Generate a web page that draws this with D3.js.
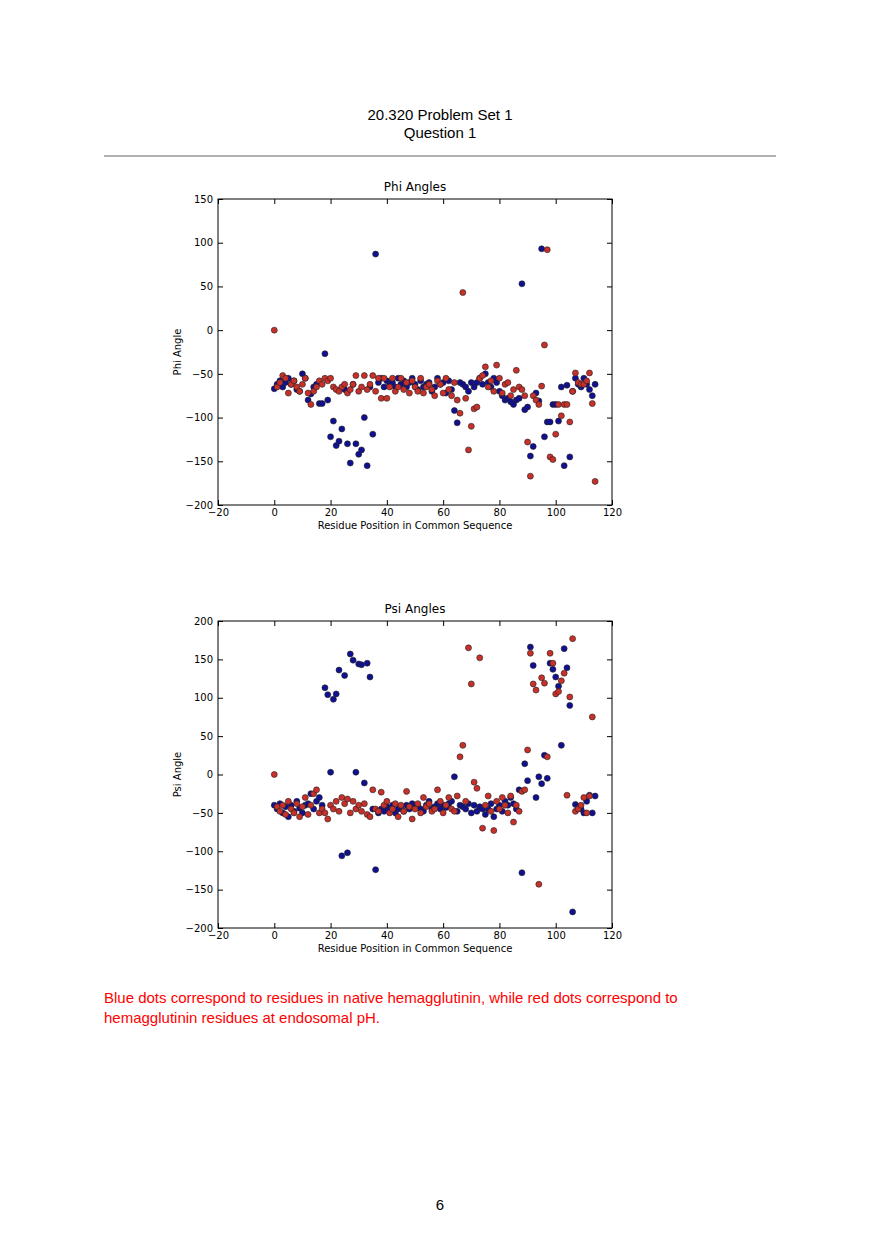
<!DOCTYPE html>
<html><head><meta charset="utf-8">
<script src="https://cdn.jsdelivr.net/npm/d3@7"></script>
<style>body{margin:0;background:#fff}</style></head>
<body><svg id="c" width="880" height="1245"></svg>
<script>
const xTicks=[-20,0,20,40,60,80,100,120];
const phiTicks=[150,100,50,0,-50,-100,-150,-200];
const psiTicks=[200,150,100,50,0,-50,-100,-150,-200];
const phiBlue=[-67,-62,-58,-65,-60,-55,-62,-58,-68,-70,-50,-55,-80,-73,-65,-62,-84,-84,-27,-80,-122,-104,-132,-127,-113,-68,-130,-152,-62,-130,-142,-137,-100,-155,-65,-119,87,-60,-55,-65,-58,-62,-60,-65,-55,-62,-58,-65,-60,-55,-62,-68,-58,-65,-62,-60,-70,-65,-55,-62,-60,-72,-58,-68,-92,-106,-60,-62,-65,-70,-60,-65,-60,-55,-62,-50,-60,-65,-55,-60,-70,-75,-80,-78,-82,-85,-80,-78,53,-91,-88,-144,-133,-72,-81,93,-122,-105,-105,-85,-85,-104,-65,-155,-63,-145,-70,-55,-62,-65,-55,-62,-68,-75,-62];
const phiRed=[0,-65,-60,-52,-55,-72,-62,-58,-65,-70,-62,-55,-72,-85,-70,-65,-58,-62,-55,-58,-55,-65,-68,-70,-65,-62,-72,-68,-62,-52,-70,-65,-52,-68,-62,-52,-70,-55,-78,-55,-78,-65,-55,-70,-65,-55,-68,-60,-72,-58,-65,-70,-55,-72,-65,-62,-68,-75,-58,-62,-72,-55,-68,-75,-60,-80,-95,43,-78,-137,-110,-90,-88,-55,-52,-42,-65,-58,-70,-40,-55,-72,-62,-60,-75,-68,-46,-65,-68,-75,-128,-167,-75,-80,-85,-64,-17,92,-145,-148,-119,-85,-98,-85,-85,-105,-70,-49,-60,-62,-62,-58,-49,-84,-173];
const psiBlue=[-40,-45,-38,-50,-42,-55,-40,-48,-35,-44,-50,-40,-38,-25,-45,-35,-30,-40,113,104,3,98,105,136,-106,129,-102,157,149,3,144,143,-11,145,127,-45,-124,-50,-45,-48,-42,-45,-40,-50,-45,-42,-48,-40,-45,-38,-42,-40,-45,-48,-40,-35,-45,-42,-38,-45,-40,-43,-38,-35,-3,-48,-40,-42,-45,-38,-50,-40,-48,-42,-45,-52,-45,-38,-55,-45,-40,-48,-35,-40,-30,-38,-45,-20,-128,14,-8,166,142,-30,-3,-12,25,-5,145,137,127,115,38,164,139,90,-179,-39,-42,-45,-50,-35,-27,-50,-28];
const psiRed=[0,-42,-48,-40,-52,-35,-45,-50,-38,-55,-42,-30,-52,-40,-25,-20,-50,-45,-50,-58,-40,-45,-35,-48,-30,-38,-32,-50,-35,-45,-40,-48,-38,-52,-55,-20,-45,-48,-23,-40,-35,-50,-45,-38,-55,-40,-48,-22,-42,-58,-45,-38,-50,-30,-42,-38,-48,-45,-20,-35,-50,-40,-30,-45,-48,-28,23,38,-35,165,118,-10,-18,152,-70,-40,-28,-48,-73,-35,-45,-30,-40,-50,-28,-62,-40,-48,-22,-20,32,158,118,110,-143,126,119,23,158,145,105,108,122,132,-27,101,177,-48,-45,-40,-30,-50,-28,75];

const svg=d3.select("#c");
const ff="Arial, 'Liberation Sans', sans-serif";
const mf="'DejaVu Sans', sans-serif";
svg.append("text").attr("x",440).attr("y",120).attr("text-anchor","middle").attr("font-family",ff).attr("font-size",15).text("20.320 Problem Set 1");
svg.append("text").attr("x",440).attr("y",138).attr("text-anchor","middle").attr("font-family",ff).attr("font-size",15).text("Question 1");
svg.append("line").attr("x1",104).attr("x2",776).attr("y1",156).attr("y2",156).attr("stroke","#b0b0b0").attr("stroke-width",2);

function chart(top,bottom,yDom,yT,title,ylab,blue,red){
  const L=218,R=612;
  const x=d3.scaleLinear().domain([-20,120]).range([L,R]);
  const y=d3.scaleLinear().domain(yDom).range([bottom,top]);
  const g=svg.append("g");
  const pts=(arr,fill)=>g.append("g").selectAll("circle").data(arr.map((v,i)=>[i,v]).filter(d=>d[1]!=null)).join("circle")
    .attr("cx",d=>x(d[0])).attr("cy",d=>y(d[1])).attr("r",3).attr("fill",fill).attr("stroke","#222").attr("stroke-width",0.6);
  pts(blue,"#101090");pts(red,"#c8302a");
  const ax=(gen,tx)=>{const a=g.append("g").attr("transform",tx).call(gen);a.select(".domain").remove();
    a.selectAll("text").attr("font-family",mf).attr("font-size",10).attr("fill","#000");a.selectAll("line").attr("stroke","#000");return a;};
  const fmt=d=>String(d).replace("-","\u2212");
  ax(d3.axisBottom(x).tickValues(xTicks).tickSize(-5).tickPadding(4).tickFormat(fmt),`translate(0,${bottom})`);
  ax(d3.axisTop(x).tickValues(xTicks).tickSize(-5).tickFormat(""),`translate(0,${top})`);
  ax(d3.axisLeft(y).tickValues(yT).tickSize(-5).tickPadding(5).tickFormat(fmt),`translate(${L},0)`);
  ax(d3.axisRight(y).tickValues(yT).tickSize(-5).tickFormat(""),`translate(${R},0)`);
  g.append("rect").attr("x",L).attr("y",top).attr("width",R-L).attr("height",bottom-top).attr("fill","none").attr("stroke","#000").attr("stroke-width",1);
  g.append("text").attr("x",(L+R)/2).attr("y",top-8).attr("text-anchor","middle").attr("font-family",mf).attr("font-size",12).text(title);
  g.append("text").attr("x",(L+R)/2).attr("y",bottom+24).attr("text-anchor","middle").attr("font-family",mf).attr("font-size",10).text("Residue Position in Common Sequence");
  g.append("text").attr("transform",`translate(181,${(top+bottom)/2}) rotate(-90)`).attr("text-anchor","middle").attr("font-family",mf).attr("font-size",10).text(ylab);
}
chart(199,505,[-200,150],phiTicks,"Phi Angles","Phi Angle",phiBlue,phiRed);
chart(621,928,[-200,200],psiTicks,"Psi Angles","Psi Angle",psiBlue,psiRed);

svg.append("text").attr("x",104).attr("y",1003).attr("font-family",ff).attr("font-size",15).attr("fill","#ff0000").text("Blue dots correspond to residues in native hemagglutinin, while red dots correspond to");
svg.append("text").attr("x",104).attr("y",1023).attr("font-family",ff).attr("font-size",15).attr("fill","#ff0000").text("hemagglutinin residues at endosomal pH.");
svg.append("text").attr("x",440).attr("y",1210).attr("text-anchor","middle").attr("font-family",ff).attr("font-size",15).text("6");
</script></body></html>
